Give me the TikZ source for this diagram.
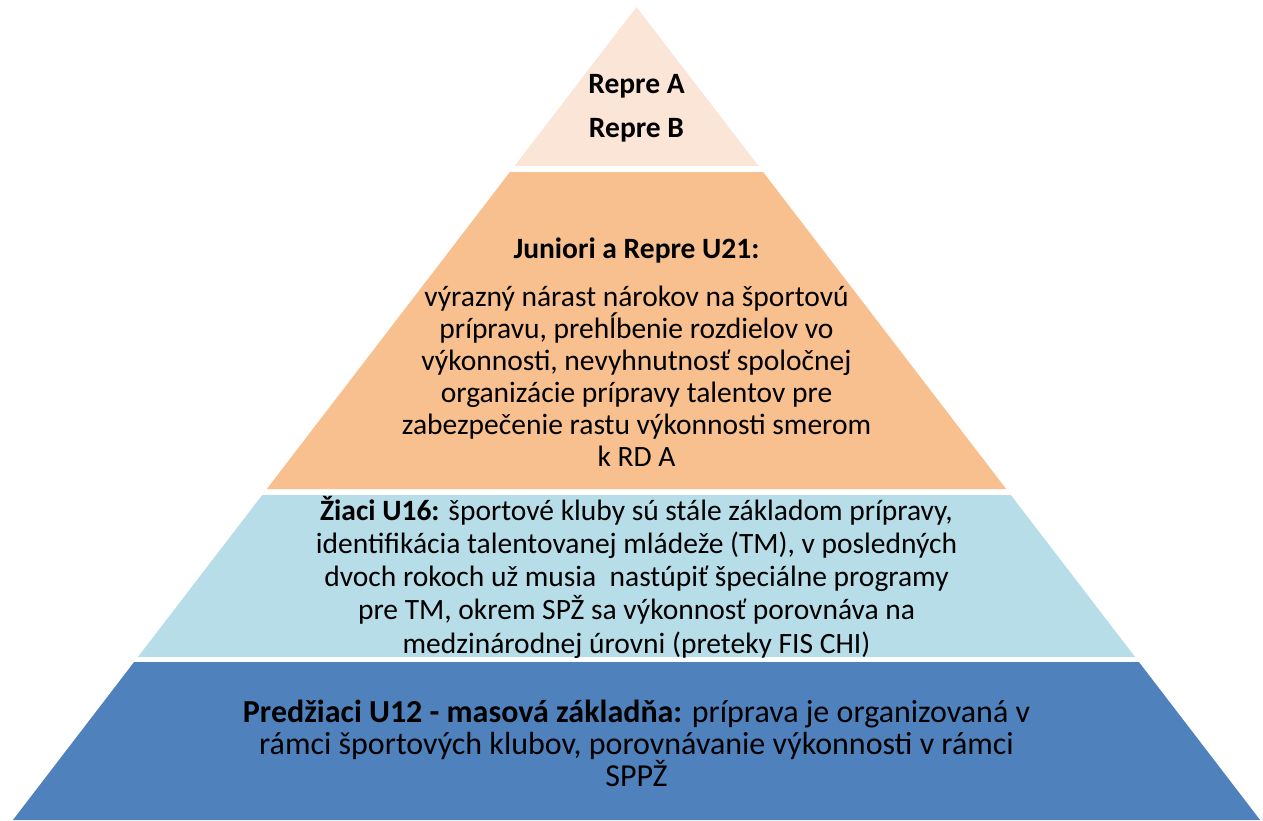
\documentclass[tikz,border=0pt]{standalone}
\usepackage{fontspec}
\setmainfont{Carlito}
\definecolor{lay1}{HTML}{FBE5D6}
\definecolor{lay2}{HTML}{F8C08F}
\definecolor{lay3}{HTML}{B7DDE8}
\definecolor{lay4}{HTML}{4F81BD}
\begin{document}
\begin{tikzpicture}[x=1pt,y=-1pt,
  layertext/.style={align=center,inner sep=0pt,font=\fontsize{29.5}{32}\selectfont},
  headtext/.style={align=center,inner sep=0pt,font=\bfseries\fontsize{29.5}{32}\selectfont},
  midtext/.style={align=center,inner sep=0pt,font=\fontsize{29.5}{33.2}\selectfont},
  basetext/.style={align=center,inner sep=0pt,font=\fontsize{32}{32}\selectfont}]
\useasboundingbox (0,0) rectangle (1263,820);
\fill[lay1] (636.5,7) -- (758.5,166) -- (514.5,166) -- cycle;
\fill[lay2] (509.9,172) -- (763.1,172) -- (1006.2,489) -- (266.8,489) -- cycle;
\fill[lay3] (262.2,495) -- (1010.8,495) -- (1135.1,657) -- (137.9,657) -- cycle;
\fill[lay4] (134.1,662) -- (1138.9,662) -- (1260.1,820) -- (12.9,820) -- cycle;
\node[headtext] (ra) at (636.5,86) {Repre A};
\node[headtext] (rb) at (636.5,130) {Repre B};
\node[headtext] (jh) at (636.5,250) {Juniori a Repre U21:};
\node[layertext] (jb) at (636.5,376) {výrazný nárast nárokov na športovú\\
prípravu, prehĺbenie rozdielov vo\\
výkonnosti, nevyhnutnosť spoločnej\\
organizácie prípravy talentov pre\\
zabezpečenie rastu výkonnosti smerom\\
k RD A};
\node[midtext] (zi) at (636.5,577) {\textbf{Žiaci U16:} športové kluby sú stále základom prípravy,\\
identifikácia talentovanej mládeže (TM), v posledných\\
dvoch rokoch už musia\ \ nastúpiť špeciálne programy\\
pre TM, okrem SPŽ sa výkonnosť porovnáva na\\
medzinárodnej úrovni (preteky FIS CHI)};
\node[basetext] (pr) at (636.5,743) {\textbf{Predžiaci U12 - masová základňa:} príprava je organizovaná v\\
rámci športových klubov, porovnávanie výkonnosti v rámci\\
SPPŽ};
\end{tikzpicture}
\end{document}
